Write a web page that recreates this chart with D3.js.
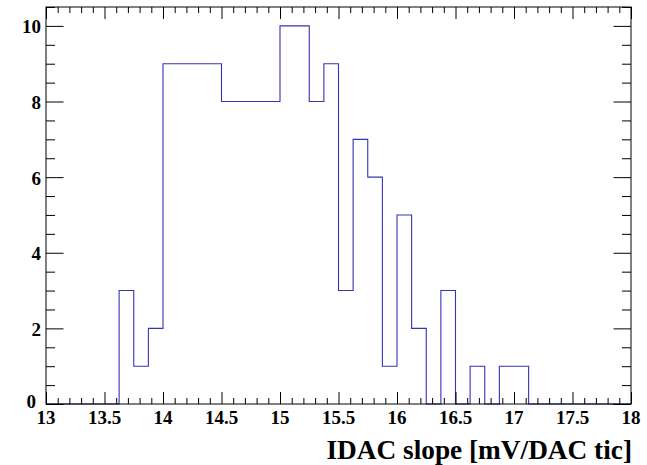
<!DOCTYPE html>
<html>
<head>
<meta charset="utf-8">
<script src="https://cdn.jsdelivr.net/npm/d3@7"></script>
<style>
  html, body { margin: 0; padding: 0; background: #fff; }
  svg { display: block; }
</style>
</head>
<body>
<svg id="chart" width="647" height="465"></svg>
<script>
// ---- Data ----
const binStart = 13.0;
const binWidth = 0.125;
// counts per bin, bins from 13.0 to 18.0 in steps of 0.125 (40 bins)
const counts = [
  0, 0, 0, 0, 0, 3, 1, 2,
  9, 9, 9, 9, 8, 8, 8, 8,
  10, 10, 8, 9, 3, 7, 6, 1,
  5, 2, 0, 3, 0, 1, 0, 1,
  1, 0, 0, 0, 0, 0, 0, 0
];
const xMajorTicks = [13, 13.5, 14, 14.5, 15, 15.5, 16, 16.5, 17, 17.5, 18];
const xTickLabels = ["13", "13.5", "14", "14.5", "15", "15.5", "16", "16.5", "17", "17.5", "18"];
const yMajorTicks = [0, 2, 4, 6, 8, 10];
const yTickLabels = ["0", "2", "4", "6", "8", "10"];
const xTitle = "IDAC slope [mV/DAC tic]";

// ---- Layout ----
const FONT = "'Liberation Serif', 'Times New Roman', serif";
const LABEL_SIZE = 19;
const L = 46, R = 631, T = 7, B = 404;
const svg = d3.select("#chart");

const x = d3.scaleLinear().domain([13, 18]).range([L, R]);
const y = d3.scaleLinear().domain([0, 10.5]).range([B, T]);

const xMinor = d3.range(0, 51).map(i => 13 + i * 0.1).filter(v => Math.abs((v * 2) - Math.round(v * 2)) > 1e-6);
const yMinor = d3.range(0, 22).map(i => i * 0.5).filter(v => v % 2 !== 0 && v <= 10.5);

// histogram path
const pts = counts.map((c, i) => [binStart + i * binWidth, c]);
pts.push([binStart + counts.length * binWidth, counts[counts.length - 1]]);
const line = d3.line().x(d => x(d[0])).y(d => y(d[1])).curve(d3.curveStepAfter);
svg.append("path")
  .attr("d", line(pts))
  .attr("fill", "none")
  .attr("stroke", "#3434b4")
  .attr("stroke-width", 1.1);

function ticksOnly(g) {
  g.select(".domain").remove();
  g.selectAll(".tick text").remove();
  g.selectAll(".tick line").attr("stroke", "#000").attr("stroke-width", 1);
}

// bottom axis ticks
svg.append("g").attr("transform", `translate(0,${B})`)
  .call(d3.axisBottom(x).tickValues(xMajorTicks).tickSize(-12)).call(ticksOnly);
svg.append("g").attr("transform", `translate(0,${B})`)
  .call(d3.axisBottom(x).tickValues(xMinor).tickSize(-6)).call(ticksOnly);
// top axis ticks
svg.append("g").attr("transform", `translate(0,${T})`)
  .call(d3.axisTop(x).tickValues(xMajorTicks).tickSize(-12)).call(ticksOnly);
svg.append("g").attr("transform", `translate(0,${T})`)
  .call(d3.axisTop(x).tickValues(xMinor).tickSize(-6)).call(ticksOnly);
// left axis ticks
svg.append("g").attr("transform", `translate(${L},0)`)
  .call(d3.axisLeft(y).tickValues(yMajorTicks).tickSize(-17.5)).call(ticksOnly);
svg.append("g").attr("transform", `translate(${L},0)`)
  .call(d3.axisLeft(y).tickValues(yMinor).tickSize(-9)).call(ticksOnly);
// right axis ticks
svg.append("g").attr("transform", `translate(${R},0)`)
  .call(d3.axisRight(y).tickValues(yMajorTicks).tickSize(-17.5)).call(ticksOnly);
svg.append("g").attr("transform", `translate(${R},0)`)
  .call(d3.axisRight(y).tickValues(yMinor).tickSize(-9)).call(ticksOnly);

// x tick labels
svg.append("g").selectAll("text")
  .data(xMajorTicks)
  .join("text")
  .attr("x", d => x(d))
  .attr("y", B + 19.5)
  .attr("text-anchor", "middle")
  .attr("font-family", FONT).attr("font-weight", "bold").attr("font-size", LABEL_SIZE)
  .attr("fill", "#000")
  .text((d, i) => xTickLabels[i]);

// y tick labels
svg.append("g").selectAll("text")
  .data(yMajorTicks)
  .join("text")
  .attr("x", d => d === 0 ? L - 10 : L - 5)
  .attr("y", d => y(d) + (d === 0 ? 4 : 7.5))
  .attr("text-anchor", "end")
  .attr("font-family", FONT).attr("font-weight", "bold").attr("font-size", LABEL_SIZE)
  .attr("fill", "#000")
  .text((d, i) => yTickLabels[i]);

// frame
svg.append("rect")
  .attr("x", L).attr("y", T).attr("width", R - L).attr("height", B - T)
  .attr("fill", "none").attr("stroke", "#000").attr("stroke-width", 1);

// axis title
svg.append("text")
  .attr("x", R + 1).attr("y", 459)
  .attr("text-anchor", "end")
  .attr("font-family", FONT).attr("font-weight", "bold")
  .attr("font-size", 27.3)
  .attr("fill", "#000")
  .text(xTitle);
</script>
</body>
</html>
